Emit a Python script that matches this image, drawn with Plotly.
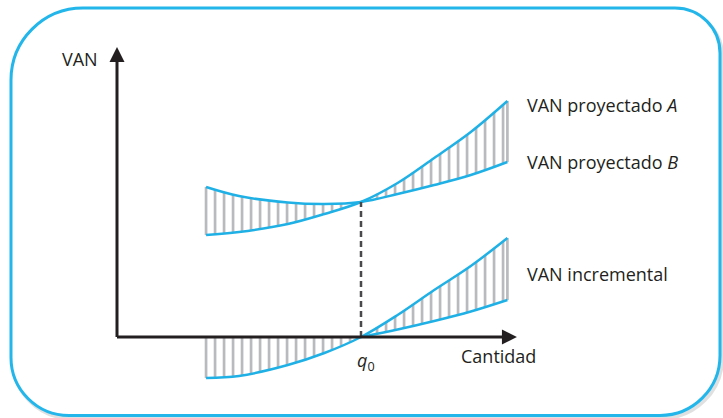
import numpy as np
import plotly.graph_objects as go

# ---- data (x = quantity, y = NPV / VAN) ----
quantity = [3.65, 5, 7, 8.5, 10, 11.5, 13, 14.5, 16]
van_a = [10.2, 10.5, 11.3, 12.3, 13.5, 15.4, 17.9, 20.5, 23.6]
van_b = [15.0, 14.1, 13.45, 13.3, 13.5, 14.3, 15.2, 16.2, 17.5]
van_incremental = [-4.1, -3.9, -2.8, -1.6, 0.0, 2.2, 4.7, 7.1, 9.9]
van_inc_lower = [0.0, 0.0, 0.0, 0.0, 0.0, 0.75, 1.6, 2.55, 3.7]
q0 = 10
x_axis_end = 16.39
y_axis_end = 29.0

labels = {
    "van": "VAN",
    "a": "VAN proyectado <i>A</i>",
    "b": "VAN proyectado <i>B</i>",
    "inc": "VAN incremental",
    "cant": "Cantidad",
    "q0": "<i>q</i><sub>0</sub>",
}

# ---- styling ----
W, H = 723, 418
BLUE = "#1fb1e6"
HATCH = "#b9babe"
INK = "#231f20"
FONT = "Open Sans"
FS = 18

X_RANGE = [-4.795, 24.836]
Y_RANGE = [-8.1, 33.7]
HATCH_STEP = 9 / 24.4  # one hatch line every ~9 px

fig = go.Figure()

# hatch lines between two boundaries, derived from the data arrays
def hatch_trace(lower, upper):
    qs = np.arange(quantity[0], quantity[-1] + 1e-6, HATCH_STEP)
    qs = np.append(qs[qs < quantity[-1] - 0.1], quantity[-1])
    lo = np.interp(qs, quantity, lower)
    hi = np.interp(qs, quantity, upper)
    xs, ys = [], []
    for q, a, b in zip(qs, lo, hi):
        if abs(a - b) < 0.3:
            continue
        xs += [q, q, None]
        ys += [a, b, None]
    return go.Scatter(x=xs, y=ys, mode="lines", line=dict(color=HATCH, width=2.7),
                      hoverinfo="skip")

fig.add_trace(hatch_trace(van_a, van_b))
fig.add_trace(hatch_trace(van_inc_lower, van_incremental))

# curves
for ys in (van_a, van_b, van_incremental):
    fig.add_trace(go.Scatter(x=quantity, y=ys, mode="lines",
                             line=dict(color=BLUE, width=2.5, shape="spline"), hoverinfo="skip"))
fig.add_trace(go.Scatter(x=quantity[4:], y=van_inc_lower[4:], mode="lines",
                         line=dict(color=BLUE, width=2.5, shape="spline"), hoverinfo="skip"))

# dashed line at q0
fig.add_trace(go.Scatter(x=[q0, q0], y=[0, van_a[4]], mode="lines",
                         line=dict(color="#4a4a4c", width=2.5, dash="6px,4px"), hoverinfo="skip"))

# axes
fig.add_trace(go.Scatter(x=[0, x_axis_end - 0.4], y=[0, 0], mode="lines",
                         line=dict(color=INK, width=3), hoverinfo="skip"))
fig.add_trace(go.Scatter(x=[0, 0], y=[0, y_axis_end - 1.0], mode="lines",
                         line=dict(color=INK, width=3), hoverinfo="skip"))
fig.add_trace(go.Scatter(x=[x_axis_end], y=[0], mode="markers",
                         marker=dict(symbol="arrow-right", size=15, color=INK), hoverinfo="skip"))
fig.add_trace(go.Scatter(x=[0], y=[y_axis_end], mode="markers",
                         marker=dict(symbol="arrow-up", size=15, color=INK), hoverinfo="skip"))

# labels
def ann(text, x, y, xanchor="left"):
    fig.add_annotation(x=x, y=y, text=text, showarrow=False, xanchor=xanchor, yanchor="middle",
                       font=dict(family=FONT, size=FS, color=INK))

ann(labels["van"], -2.34, 27.8)
ann(labels["a"], 16.72, 23.2)
ann(labels["b"], 16.72, 17.5)
ann(labels["inc"], 16.72, 6.3)
ann(labels["cant"], 14.0, -1.9)
ann(labels["q0"], 10.2, -2.4, xanchor="center")

# rounded frame (pixel -> paper)
def P(px, py):
    return f"{px / W:.5f},{1 - py / H:.5f}"

def frame_path(L, T, R, B, rtl, rtr, rbr, rbl):
    k = 0.5523
    return (f"M{P(L, T + rtl)} C{P(L, T + rtl - k * rtl)} {P(L + rtl - k * rtl, T)} {P(L + rtl, T)} "
            f"L{P(R - rtr, T)} C{P(R - rtr + k * rtr, T)} {P(R, T + rtr - k * rtr)} {P(R, T + rtr)} "
            f"L{P(R, B - rbr)} C{P(R, B - rbr + k * rbr)} {P(R - rbr + k * rbr, B)} {P(R - rbr, B)} "
            f"L{P(L + rbl, B)} C{P(L + rbl - k * rbl, B)} {P(L, B - rbl + k * rbl)} {P(L, B - rbl)} Z")

fig.add_shape(type="path", xref="paper", yref="paper", layer="below",
              path=frame_path(13, 11, 722, 418, 72, 45, 60, 58),
              line=dict(color="rgba(0,0,0,0.12)", width=4))
fig.add_shape(type="path", xref="paper", yref="paper", layer="below",
              path=frame_path(11, 8, 720, 415.5, 72, 45, 60, 58),
              line=dict(color="#22b6ea", width=3), fillcolor="white")

fig.update_layout(
    width=W, height=H, margin=dict(l=0, r=0, t=0, b=0),
    paper_bgcolor="white", plot_bgcolor="rgba(0,0,0,0)", showlegend=False,
    xaxis=dict(range=X_RANGE, visible=False, fixedrange=True),
    yaxis=dict(range=Y_RANGE, visible=False, fixedrange=True),
)

fig.write_html("out.html", config={"displayModeBar": False},
               post_script="document.body.style.margin='0';document.body.style.overflow='hidden';")
